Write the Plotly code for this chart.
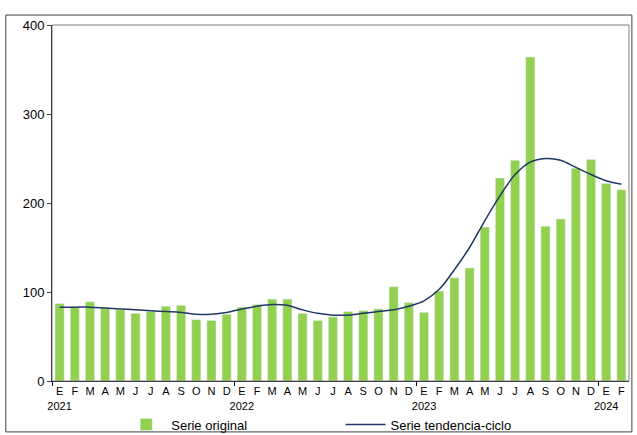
import plotly.graph_objects as go

months = ["E", "F", "M", "A", "M", "J", "J", "A", "S", "O", "N", "D"] * 3 + ["E", "F"]
years = ["2021", "2022", "2023", "2024"]
original = [87, 83, 89, 82, 80, 76, 78, 84, 85, 69, 68, 75,
            83, 86, 92, 92, 76, 68, 72, 78, 79, 81, 106, 88,
            77, 101, 116, 127, 173, 228, 248, 364, 174, 182, 239, 249,
            222, 215]
tendencia = [83, 83, 83, 82, 81, 80, 79, 78, 77, 75, 75, 77,
             81, 84, 86, 85, 80, 76, 74, 74, 76, 78, 80, 84,
             90, 103, 125, 150, 180, 208, 232, 246, 250, 248, 240, 232,
             225, 221]

x = list(range(len(original)))
labels = []
for i, m in enumerate(months):
    labels.append(m + "<br>" + years[i // 12] if i % 12 == 0 else m)

fig = go.Figure()
fig.add_bar(x=x, y=original, name="Serie original", marker_color="#92d050", width=0.6,
            legend="legend")
fig.add_scatter(x=x, y=tendencia, name="Serie tendencia-ciclo", mode="lines",
                line=dict(color="#1f3864", width=1.5), line_shape="spline", legend="legend2")
# invisible trace on second axis so year-boundary ticks are drawn
fig.add_scatter(x=[-0.5], y=[0], xaxis="x2", showlegend=False, hoverinfo="skip",
                mode="markers", marker=dict(opacity=0))

rng = [-0.5, len(x) - 0.5]
leg = dict(orientation="h", yref="container", y=0.024, yanchor="middle", font=dict(size=13),
           bgcolor="rgba(0,0,0,0)", itemwidth=40)
fig.update_layout(
    width=637, height=435,
    paper_bgcolor="white", plot_bgcolor="white",
    font=dict(family="Liberation Sans, Arial", size=12, color="black"),
    margin=dict(l=52, r=8, t=25, b=54),
    bargap=0.4,
    xaxis=dict(range=rng, tickvals=x, ticktext=labels, ticks="", showline=True,
               linecolor="black", tickfont=dict(size=11), tickangle=0, automargin=False),
    xaxis2=dict(range=rng, overlaying="x", side="bottom", tickvals=[-0.5, 11.5, 23.5, 35.5],
                ticktext=["", "", "", ""], ticks="outside", ticklen=4, tickcolor="black",
                showline=False, showgrid=False, automargin=False),
    yaxis=dict(range=[0, 400], dtick=100, showgrid=False, showline=True, linecolor="black",
               ticks="outside", ticklen=4, mirror=False, tickfont=dict(size=13), automargin=False),
    legend=dict(leg, x=0.12, xanchor="left"),
    legend2=dict(leg, x=0.50, xanchor="left"),
    shapes=[dict(type="rect", xref="paper", yref="paper", x0=0, x1=1, y0=0, y1=1,
                 line=dict(color="#7f7f7f", width=1)),
            dict(type="rect", xref="paper", yref="paper", x0=-0.08, x1=1.005, y0=-0.143, y1=1.028,
                 line=dict(color="#404040", width=1))],
)
fig.write_html("out.html", config={"displayModeBar": False},
               post_script="document.body.style.margin='0';")
